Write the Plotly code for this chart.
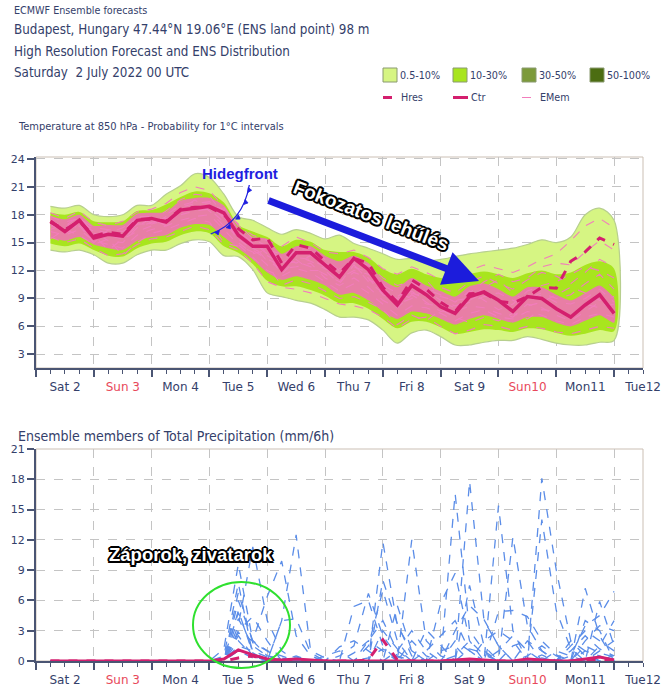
import plotly.graph_objects as go

W, H = 671, 692


def px(v):
    return v / W


def py(v):
    return 1 - v / H


# ---------------- data ----------------
lead_hours = [6, 12, 18, 24, 30, 36, 42, 48, 54, 60, 66, 72, 78, 84, 90, 96, 102, 108, 114, 120,
              126, 132, 138, 144, 150, 156, 162, 168, 174, 180, 186, 192, 198, 204, 210, 216, 222, 228, 234, 240]
days = [h / 24 for h in lead_hours]

day_ticks = [0, 1, 2, 3, 4, 5, 6, 7, 8, 9, 10]
day_labels = ["Sat 2", "Sun 3", "Mon 4", "Tue 5", "Wed 6", "Thu 7", "Fri 8", "Sat 9", "Sun10", "Mon11", "Tue12"]
sunday = [False, True, False, False, False, False, False, False, True, False, False]

t_ticks = [3, 6, 9, 12, 15, 18, 21, 24]
tp_ticks = [0, 3, 6, 9, 12, 15, 18, 21]

t850_ctr = [17.3, 16.2, 17.4, 15.5, 15.9, 15.7, 17.4, 17.6, 17.2, 18.5, 18.7, 18.9, 18.2, 15.8, 14.6, 14.6, 12.1, 13.9, 13.9, 12.6,
            11.3, 13.3, 12.1, 9.9, 8.3, 10.4, 9.4, 8.1, 7.4, 9.2, 9.7, 8.8, 7.6, 9.2, 9.0, 7.9, 7.0, 8.3, 9.4, 7.4]
t850_hres = [17.2, 16.4, 17.3, 15.7, 16.1, 15.9, 17.5, 17.5, 17.3, 18.6, 18.8, 18.8, 18.0, 16.5, 15.3, 15.5, 12.8, 14.8, 14.4, 13.1,
             11.7, 13.3, 12.8, 10.2, 8.6, 11.0, 10.0, 8.6, 7.6, 9.5, 9.6, 8.7, 8.5, 9.2, 10.2, 10.1, 13.0, 14.0, 15.5, 14.8]

t850_p05_hi = [18.9, 18.7, 19.0, 18.0, 17.8, 18.0, 19.0, 19.0, 20.2, 21.1, 22.4, 22.0, 20.2, 17.8, 17.4, 16.6, 15.9, 16.4, 16.0, 15.4,
               15.8, 14.9, 14.4, 13.8, 13.2, 13.3, 13.0, 13.2, 13.5, 13.8, 14.0, 14.2, 14.4, 14.8, 15.3, 15.0, 15.6, 18.0, 18.7, 17.4]
t850_p05_lo = [14.2, 14.0, 14.2, 13.7, 12.8, 12.8, 13.7, 14.2, 14.2, 14.9, 15.3, 15.1, 13.6, 13.5, 12.1, 9.6, 9.2, 8.8, 8.5, 7.8,
               7.0, 7.0, 6.7, 5.6, 4.2, 5.3, 5.6, 4.9, 4.0, 4.0, 4.3, 4.5, 4.5, 4.9, 4.6, 4.2, 4.0, 4.0, 4.3, 4.5]
t850_p10_hi = [18.2, 18.0, 18.3, 17.3, 17.2, 17.3, 18.4, 18.5, 19.1, 19.9, 20.5, 20.3, 19.3, 16.9, 16.2, 15.6, 14.6, 15.3, 15.1, 14.2,
               14.0, 14.0, 13.4, 12.2, 11.6, 12.2, 11.6, 11.2, 11.0, 11.6, 11.9, 11.6, 11.2, 11.7, 12.0, 11.6, 11.8, 12.6, 13.0, 12.2]
t850_p10_lo = [14.9, 14.6, 14.9, 14.2, 13.6, 13.5, 14.4, 14.9, 15.1, 15.8, 16.2, 16.0, 14.6, 13.9, 12.7, 10.9, 10.3, 10.3, 9.9, 9.3,
               8.5, 8.5, 7.9, 6.8, 5.8, 6.5, 6.5, 5.9, 5.2, 5.4, 5.7, 5.6, 5.4, 5.8, 5.7, 5.3, 5.0, 5.2, 5.6, 5.5]
t850_emem_hi = [17.9, 17.5, 18.0, 16.8, 16.9, 16.9, 18.1, 18.2, 18.3, 19.5, 19.8, 19.8, 19.0, 16.6, 15.6, 15.4, 13.8, 14.6, 14.6, 13.6,
                13.0, 13.6, 12.8, 11.0, 10.2, 11.2, 10.4, 9.8, 9.2, 10.3, 10.6, 10.0, 9.2, 10.2, 10.2, 9.4, 8.8, 9.6, 10.4, 9.0]
t850_emem_lo = [15.6, 15.2, 15.6, 14.8, 14.4, 14.2, 15.2, 15.6, 15.8, 16.6, 17.0, 16.9, 15.6, 14.4, 13.2, 11.8, 11.0, 11.4, 11.0, 10.4,
                9.4, 9.6, 8.8, 7.6, 6.8, 7.6, 7.4, 6.8, 6.2, 6.8, 7.2, 6.8, 6.4, 7.0, 7.0, 6.4, 6.0, 6.6, 7.2, 6.4]

t850_mem1 = [18.2, 17.6, 18.4, 17.2, 16.8, 17.3, 18.3, 18.6, 19.2, 20.4, 21.0, 20.6, 18.8, 16.8, 15.8, 15.2, 14.6, 15.6, 15.0, 14.0,
             13.8, 14.2, 13.4, 12.2, 11.6, 12.4, 11.8, 11.0, 11.2, 12.0, 12.6, 12.2, 11.8, 12.4, 13.2, 13.8, 15.2, 16.8, 17.6, 16.6]
t850_mem2 = [15.6, 15.0, 15.4, 14.4, 13.6, 13.8, 14.8, 15.4, 15.6, 16.2, 16.8, 16.4, 14.8, 14.2, 12.8, 10.8, 10.2, 10.0, 9.6, 9.0,
             8.4, 8.2, 7.8, 7.0, 5.8, 6.8, 7.0, 6.0, 5.2, 5.6, 6.2, 6.0, 5.6, 6.0, 5.8, 5.4, 5.2, 5.6, 6.0, 5.8]
t850_mem3 = [16.8, 16.6, 17.0, 16.2, 15.2, 15.0, 16.6, 17.2, 17.6, 18.0, 18.4, 18.6, 17.2, 15.4, 14.2, 13.2, 12.6, 13.0, 12.4, 11.6,
             10.8, 11.8, 11.2, 9.4, 8.8, 9.6, 9.0, 8.6, 8.0, 8.6, 9.2, 9.6, 8.8, 8.2, 8.6, 9.4, 10.2, 9.6, 8.8, 9.2]
t850_mem4 = [17.6, 16.0, 16.8, 15.0, 16.4, 16.2, 17.0, 17.0, 18.0, 19.0, 19.4, 19.2, 17.6, 16.2, 15.0, 14.0, 13.4, 12.8, 13.6, 12.8,
             12.2, 12.6, 11.0, 10.4, 9.6, 9.0, 10.0, 9.4, 8.6, 9.8, 8.8, 7.8, 8.4, 9.8, 10.4, 10.8, 11.6, 12.4, 12.0, 11.2]
t850_mem5 = [16.2, 15.8, 16.4, 15.2, 14.8, 14.4, 15.8, 16.4, 16.8, 17.4, 17.8, 18.0, 16.4, 14.8, 13.4, 12.0, 11.4, 12.2, 11.8, 10.8,
             9.8, 10.6, 9.6, 8.4, 7.2, 8.2, 8.0, 7.4, 6.6, 7.4, 7.8, 7.0, 6.8, 7.6, 7.2, 6.6, 6.2, 7.0, 7.4, 7.0]
t850_mem6 = [17.0, 16.8, 17.8, 16.0, 15.6, 16.2, 17.8, 17.8, 17.0, 18.8, 19.2, 19.4, 18.4, 17.0, 15.4, 14.6, 13.0, 14.2, 14.4, 13.2,
             12.0, 12.8, 12.6, 11.2, 10.4, 10.8, 9.6, 10.2, 9.6, 10.8, 11.4, 10.6, 10.0, 11.0, 11.8, 11.4, 10.6, 11.8, 13.2, 12.4]
t850_mem7 = [15.4, 16.4, 15.8, 14.8, 15.4, 13.6, 15.0, 16.0, 16.4, 17.0, 17.6, 17.2, 15.0, 14.6, 14.0, 12.6, 10.4, 11.0, 10.6, 9.8,
             9.0, 9.2, 8.6, 7.8, 6.2, 7.2, 6.6, 7.8, 7.0, 6.4, 7.0, 6.6, 7.4, 6.8, 7.8, 7.6, 7.0, 8.4, 8.0, 8.4]
t850_mem8 = [17.8, 17.2, 17.6, 16.6, 16.4, 15.6, 17.0, 17.4, 18.4, 19.6, 20.2, 20.0, 18.0, 15.0, 13.8, 14.2, 13.8, 13.6, 13.0, 12.2,
             11.6, 12.4, 11.8, 10.0, 9.2, 10.2, 11.0, 9.2, 8.8, 9.0, 10.2, 11.0, 9.6, 8.6, 9.4, 8.6, 8.4, 9.0, 10.0, 8.6]
t850_mem9 = [16.4, 17.0, 16.6, 15.8, 14.2, 15.4, 16.2, 16.8, 17.8, 18.6, 19.6, 18.4, 16.8, 15.8, 14.8, 13.0, 12.2, 12.4, 12.8, 11.2,
             10.4, 11.2, 10.2, 8.8, 8.0, 9.4, 8.4, 8.2, 7.6, 8.2, 8.0, 7.4, 7.0, 8.4, 8.0, 7.2, 6.6, 7.6, 8.6, 7.8]
t850_mem10 = [17.4, 16.6, 17.2, 16.4, 16.0, 16.6, 17.6, 17.0, 17.4, 18.2, 18.8, 19.0, 18.6, 16.2, 14.4, 13.6, 12.8, 13.4, 13.2, 12.4,
              11.2, 12.0, 11.6, 10.6, 8.4, 9.0, 9.8, 8.8, 8.2, 8.8, 9.6, 9.0, 8.0, 9.0, 9.6, 9.0, 9.4, 10.6, 11.6, 10.0]
t850_mem11 = [17.0, 16.2, 17.0, 15.4, 15.8, 15.4, 16.8, 17.6, 16.8, 18.4, 18.6, 18.8, 17.8, 15.6, 15.0, 13.8, 11.6, 13.2, 12.0, 12.0,
              10.6, 12.6, 10.8, 9.6, 9.0, 9.8, 8.6, 7.6, 7.8, 9.6, 10.8, 11.6, 10.8, 11.2, 12.4, 12.8, 12.6, 14.0, 15.2, 14.2]
t850_members = [t850_mem1, t850_mem2, t850_mem3, t850_mem4, t850_mem5, t850_mem6, t850_mem7, t850_mem8,
                t850_mem9, t850_mem10, t850_mem11]

tp_ctr = [0, 0, 0, 0, 0, 0, 0, 0, 0, 0, 0, 0, 0.2, 1.1, 0.6, 0.2, 0.1, 0.2, 0.1, 0,
          0, 0, 0, 0, 0, 0, 0, 0, 0.1, 0.2, 0.1, 0, 0, 0.2, 0.1, 0, 0, 0.2, 0.4, 0.1]
tp_hres = [0, 0, 0, 0, 0, 0, 0, 0, 0, 0, 0, 0, 0, 0.3, 0.5, 0.1, 0, 0, 0, 0,
           0, 0, 0.1, 2.1, 0.1, 0, 0, 0, 0, 0.1, 0, 0, 0, 0, 0, 0, 0, 0, 0.1, 0]
tp_mem1 = [0, 0, 0, 0, 0, 0, 0, 0, 0, 0, 0, 0, 0.5, 7.7, 0.6, 0.2, 0, 0, 0, 0,
           0, 0, 0.3, 1.2, 0.4, 0, 0, 0, 0.5, 2.0, 0.6, 0, 0, 0, 0.3, 0, 0, 1.5, 0.8, 0.4]
tp_mem2 = [0, 0, 0, 0, 0, 0, 0, 0, 0, 0, 0, 0, 1.2, 9.6, 2.0, 0.5, 0.3, 0, 0, 0,
           0.5, 1.5, 6.7, 2.5, 0.5, 0, 0, 0, 16.6, 3.0, 1.0, 0, 0, 0, 0, 0, 1.0, 2.5, 1.2, 0.5]
tp_mem3 = [0, 0, 0, 0, 0, 0, 0, 0, 0, 0, 0, 0, 0, 3.5, 11.3, 4.0, 1.0, 0, 0, 0,
           0, 0, 0, 11.8, 3.5, 1.0, 0, 0, 0, 17.8, 4.0, 1.5, 0, 0, 0, 0, 0.5, 3.5, 4.5, 6.9]
tp_mem4 = [0, 0, 0, 0, 0, 0, 0, 0, 0, 0, 0, 0, 0, 6.0, 2.0, 6.4, 9.9, 2.5, 0.5, 0,
           0, 0, 0, 0, 0, 12.0, 2.0, 0.5, 0, 0, 0, 15.4, 3.0, 0, 0, 0, 0, 0, 1.0, 2.0]
tp_mem5 = [0, 0, 0, 0, 0, 0, 0, 0, 0, 0, 0, 0, 0, 5.0, 0.8, 0, 4.0, 12.5, 1.0, 0.3,
           0, 0, 0, 0, 5.5, 1.0, 0, 0, 0, 0, 0, 0, 12.3, 3.5, 1.0, 0, 0, 7.2, 2.5, 0]
tp_mem6 = [0, 0, 0, 0, 0, 0, 0, 0, 0, 0, 0, 0, 0, 4.2, 1.5, 0.5, 0, 0, 0, 0,
           0, 5.4, 6.0, 1.5, 0, 0, 0, 5.7, 8.7, 2.0, 0, 0, 0, 0, 18.1, 9.0, 2.0, 0.5, 0, 0]
tp_mem7 = [0, 0, 0, 0, 0, 0, 0, 0, 0, 0, 0, 0, 0, 3.0, 4.4, 2.0, 0, 0, 0, 0,
           0, 0, 0, 8.0, 3.7, 0.5, 0, 0, 0, 7.5, 1.5, 0, 0, 0, 14.0, 5.0, 1.2, 0, 5.9, 1.5]
tp_mem8 = [0, 0, 0, 0, 0, 0, 0, 0, 0, 0, 0, 0, 0, 2.5, 0.5, 0, 4.0, 4.2, 0.8, 0,
           0, 0, 1.5, 7.0, 2.0, 0, 3.1, 1.5, 0, 0, 0, 4.9, 5.0, 4.4, 2.0, 0.6, 0, 2.0, 3.5, 3.0]
tp_mem9 = [0, 0, 0, 0, 0, 0, 0, 0, 0, 0, 0, 0, 0, 2.0, 0.5, 0, 0, 0, 0, 0,
           1.4, 2.0, 1.0, 0, 0, 0, 0, 0, 3.0, 5.5, 4.1, 1.5, 0, 2.0, 1.0, 0, 1.5, 3.0, 2.0, 1.0]
tp_mem10 = [0, 0, 0, 0, 0, 0, 0, 0, 0, 0, 0, 0, 0, 1.5, 1.0, 0.4, 0, 0, 0, 0,
            0, 0, 2.0, 4.0, 1.0, 0, 1.0, 2.5, 4.0, 1.0, 0, 0, 1.5, 2.0, 0, 0, 0, 4.0, 3.0, 0]
tp_mem11 = [0, 0, 0, 0, 0, 0, 0, 0, 0, 0, 0, 0, 0, 1.0, 0.3, 0, 0, 0, 0, 0.5,
            1.0, 0, 0, 0, 1.0, 3.0, 1.0, 0, 0, 0, 2.0, 3.0, 2.0, 0, 0, 1.0, 0.5, 0, 1.5, 4.0]
tp_mem12 = [0, 0, 0, 0, 0, 0, 0, 0, 0, 0, 0, 0, 0.3, 4.8, 1.0, 0, 0, 0.5, 0, 0,
            0, 0, 0, 3.0, 1.2, 0, 0, 0, 2.0, 1.0, 0, 1.0, 2.5, 1.0, 0, 0, 0, 1.0, 0.5, 0]
tp_mem13 = [0, 0, 0, 0, 0, 0, 0, 0, 0, 0, 0, 0, 0, 6.8, 1.8, 1.0, 0.5, 0, 0, 0,
            0, 0.8, 2.0, 1.0, 0, 0, 0, 1.0, 1.5, 0, 0, 0, 0, 0.5, 1.5, 0.5, 0, 0, 0, 0.6]
tp_mem14 = [0, 0, 0, 0, 0, 0, 0, 0, 0, 0, 0, 0, 0, 2.8, 2.0, 1.0, 0, 0.4, 0, 0,
            0, 0, 0, 0, 0, 2.0, 0.5, 0, 0, 1.2, 0.8, 0, 0, 0, 0.6, 0, 2.0, 1.0, 0, 0]
tp_members = [tp_mem1, tp_mem2, tp_mem3, tp_mem4, tp_mem5, tp_mem6, tp_mem7,
              tp_mem8, tp_mem9, tp_mem10, tp_mem11, tp_mem12, tp_mem13, tp_mem14]

legend_prob_labels = ["0.5-10%", "10-30%", "30-50%", "50-100%"]
legend_prob_colors = ["#d6f583", "#a8e51e", "#7c9a3a", "#4c6d12"]

# ---------------- styles ----------------
TXT = "#34406a"
RED = "#e8485a"
AX = "#4b5573"
MAG = "#d41f6e"
PINK = "#f27dbc"
BLUE = "#5b8de8"
FONT = "DejaVu Sans, sans-serif"
CFONT = "DejaVu Sans Condensed, DejaVu Sans, sans-serif"
BOLD = "Liberation Sans, Arial, sans-serif"

fig = go.Figure()

# ---- Temperature panel ----
fig.add_trace(go.Scatter(x=days + days[::-1], y=t850_p05_hi + t850_p05_lo[::-1], fill="toself",
                         fillcolor=legend_prob_colors[0], mode="lines",
                         line=dict(color="#b7cf8e", width=1.2, shape="spline", smoothing=0.9),
                         xaxis="x", yaxis="y", hoverinfo="skip"))
fig.add_trace(go.Scatter(x=days + days[::-1], y=t850_p10_hi + t850_p10_lo[::-1], fill="toself",
                         fillcolor=legend_prob_colors[1], mode="lines",
                         line=dict(color="rgba(0,0,0,0)", width=0, shape="spline", smoothing=0.9),
                         xaxis="x", yaxis="y", hoverinfo="skip"))
fig.add_trace(go.Scatter(x=days + days[::-1], y=t850_emem_hi + t850_emem_lo[::-1], fill="toself",
                         fillcolor="rgba(240,112,184,0.88)", mode="lines",
                         line=dict(color="rgba(0,0,0,0)", width=0, shape="spline", smoothing=0.6),
                         xaxis="x", yaxis="y", hoverinfo="skip"))
for m in t850_members:
    fig.add_trace(go.Scatter(x=days, y=m, mode="lines", line=dict(color=PINK, width=1.1, dash="dash"),
                             xaxis="x", yaxis="y", hoverinfo="skip"))
fig.add_trace(go.Scatter(x=days, y=t850_hres, mode="lines", line=dict(color=MAG, width=3, dash="dash"),
                         xaxis="x", yaxis="y"))
fig.add_trace(go.Scatter(x=days, y=t850_ctr, mode="lines", line=dict(color=MAG, width=3.5),
                         xaxis="x", yaxis="y"))

# ---- Precipitation panel ----
for m in tp_members:
    fig.add_trace(go.Scatter(x=days, y=m, mode="lines", line=dict(color=BLUE, width=1.3, dash="dash"),
                             xaxis="x2", yaxis="y2", hoverinfo="skip"))
fig.add_trace(go.Scatter(x=days, y=tp_hres, mode="lines", line=dict(color=MAG, width=3, dash="dash"),
                         xaxis="x2", yaxis="y2"))
fig.add_trace(go.Scatter(x=days, y=tp_ctr, mode="lines", line=dict(color=MAG, width=3),
                         xaxis="x2", yaxis="y2"))

ticktext = [f"<span style='color:{RED}'>{l}</span>" if s else l for l, s in zip(day_labels, sunday)]


def xaxis_cfg(anchor):
    return dict(domain=[px(36), px(643)], anchor=anchor, range=[0, 10.5], automargin=False,
                tickmode="array", tickvals=day_ticks, ticktext=ticktext, ticklabelshift=29,
                ticks="outside", ticklen=7, tickwidth=1.5, tickcolor=AX,
                showline=True, linecolor=AX, linewidth=2,
                showgrid=True, gridcolor="#c4c4c4", griddash="dash", gridwidth=1,
                minor=dict(dtick=0.25, tick0=0, ticks="outside", ticklen=4, tickcolor=AX, tickwidth=1, showgrid=False),
                tickfont=dict(family=FONT, size=12, color=TXT), zeroline=False, fixedrange=True)


def yaxis_cfg(anchor, top, bottom, rng, tv):
    return dict(domain=[py(bottom), py(top)], anchor=anchor, range=rng, automargin=False,
                tickmode="array", tickvals=tv, ticks="outside", ticklen=7, tickwidth=1.5, tickcolor=AX,
                showline=True, linecolor=AX, linewidth=2,
                showgrid=True, gridcolor="#c4c4c4", griddash="dash", gridwidth=1,
                tickfont=dict(family=FONT, size=11, color=TXT), zeroline=False, fixedrange=True)


fig.update_layout(
    width=W, height=H, autosize=False, margin=dict(l=0, r=0, t=0, b=0, pad=0, autoexpand=False),
    paper_bgcolor="white", plot_bgcolor="white", showlegend=False,
    xaxis=xaxis_cfg("y"),
    yaxis=yaxis_cfg("x", 157, 368, [1.53, 24.2], t_ticks),
    xaxis2=xaxis_cfg("y2"),
    yaxis2=yaxis_cfg("x2", 449, 661, [0, 21], tp_ticks),
)

shapes = []
annotations = []

# frame top/right borders
for top, bottom in [(157, 368), (449, 661)]:
    shapes.append(dict(type="rect", xref="paper", yref="paper", x0=px(36), x1=px(643), y0=py(bottom), y1=py(top),
                       line=dict(color="#cbbfb4", width=1), layer="below"))


def label(text, xl, yc, size, family=CFONT, color=TXT, xanchor="left", angle=0, shadow=None):
    font = dict(family=family, size=size, color=color)
    if shadow:
        font["shadow"] = shadow
    annotations.append(dict(text=text, x=px(xl), y=py(yc), xref="paper", yref="paper", xanchor=xanchor,
                            yanchor="middle", showarrow=False, textangle=angle, font=font))


# header text
label("ECMWF Ensemble forecasts", 12, 10, 10.7)
label("Budapest, Hungary 47.44°N 19.06°E (ENS land point) 98 m", 12, 30, 13.3)
label("High Resolution Forecast and ENS Distribution", 12, 51, 13.3)
label("Saturday  2 July 2022 00 UTC", 12, 72, 13.3)
label("Temperature at 850 hPa - Probability for 1°C intervals", 16, 127, 11)
label("Ensemble members of Total Precipitation (mm/6h)", 16, 436, 14)

# custom legend
leg_x = [383, 453, 522, 590]
for lx, lab, col in zip(leg_x, legend_prob_labels, legend_prob_colors):
    shapes.append(dict(type="rect", xref="paper", yref="paper", x0=px(lx), x1=px(lx + 14), y0=py(82), y1=py(68),
                       fillcolor=col, line=dict(color="#8a9a70", width=1)))
    label(lab, lx + 15, 75, 10.7)
leg2 = [(383, "Hres", MAG, 3, "dash"), (453, "Ctr", MAG, 3, "solid"), (522, "EMem", PINK, 1, "dash")]
for lx, lab, col, wd, ds in leg2:
    shapes.append(dict(type="line", xref="paper", yref="paper", x0=px(lx), x1=px(lx + 15), y0=py(97.5), y1=py(97.5),
                       line=dict(color=col, width=wd, dash=ds)))
    label(lab, lx + 16, 97.5, 10.7)

# Hidegfront annotation and cold-front arc
label("<b>Hidegfront</b>", 240, 173, 15, family=BOLD, color="#1f1fe0", xanchor="center")
shapes.append(dict(type="path", xref="paper", yref="paper",
                   path=f"M {px(210.7)},{py(234)} Q {px(243)},{py(222)} {px(249.3)},{py(185)}",
                   line=dict(color="#1f1fe0", width=1.3)))
for (ax_, ay_), (nx, ny) in [((217, 231.5), (1.0, 2.6)), ((228, 226), (1.8, 2.2)), ((237, 217), (2.4, 1.6)),
                             ((244.5, 202), (2.7, 0.7)), ((248, 190), (2.8, 0.2))]:
    shapes.append(dict(type="path", xref="paper", yref="paper",
                       path=(f"M {px(ax_ - ny * 0.9)},{py(ay_ + nx * 0.9)} L {px(ax_ + ny * 0.9)},{py(ay_ - nx * 0.9)} "
                             f"L {px(ax_ + nx * 1.3)},{py(ay_ + ny * 1.3)} Z"),
                       fillcolor="#1f1fe0", line=dict(color="#1f1fe0", width=0.8)))

# big arrow
annotations.append(dict(text="", x=px(479), y=py(281), xref="paper", yref="paper",
                        ax=267 - 479, ay=200 - 281, axref="pixel", ayref="pixel",
                        showarrow=True, arrowhead=2, arrowsize=1.0, arrowwidth=7, arrowcolor="#1c1cdc",
                        standoff=0, startstandoff=0))

OUTLINE = ("-2px 0 0 #000, 2px 0 0 #000, 0 -2px 0 #000, 0 2px 0 #000, "
           "-1.5px -1.5px 0 #000, 1.5px -1.5px 0 #000, -1.5px 1.5px 0 #000, 1.5px 1.5px 0 #000")
label("<b>Fokozatos lehűlés</b>", 371, 215, 19, family=BOLD, color="white", xanchor="center", angle=21,
      shadow=OUTLINE)
label("<b>Záporok, zivatarok</b>", 191, 554, 18.5, family=BOLD, color="white", xanchor="center",
      shadow=OUTLINE)

# green circle
shapes.append(dict(type="circle", xref="paper", yref="paper", x0=px(193), x1=px(290), y0=py(668), y1=py(582),
                   line=dict(color="#2fe02f", width=2)))

fig.update_layout(shapes=shapes, annotations=annotations)
fig.write_html("out.html", config={"displayModeBar": False},
               post_script="document.body.style.margin='0px';document.body.style.overflow='hidden';")
